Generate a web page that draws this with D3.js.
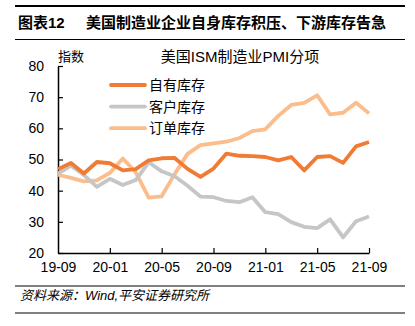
<!DOCTYPE html>
<html>
<head>
<meta charset="utf-8">
<script src="https://cdn.jsdelivr.net/npm/d3@7"></script>
<style>
  body { margin: 0; background: #fff; }
  text { font-family: "Liberation Sans", Arial, "Noto Sans CJK SC", sans-serif; fill: #000; }
</style>
</head>
<body>
<div id="chart"></div>
<script>
// months from 2019-09 to 2021-09
let months = ["19-09","19-10","19-11","19-12","20-01","20-02","20-03","20-04","20-05","20-06","20-07","20-08",
  "20-09","20-10","20-11","20-12","21-01","21-02","21-03","21-04","21-05","21-06","21-07","21-08","21-09"];
let tickLabels = ["19-09","20-01","20-05","20-09","21-01","21-05","21-09"];
let yTicks = [20, 30, 40, 50, 60, 70, 80];

let ownInventory = [46.9, 48.9, 45.5, 49.2, 48.8, 46.5, 46.9, 49.7, 50.4, 50.5, 47.0, 44.4,
  47.1, 51.9, 51.2, 51.1, 50.8, 49.7, 50.8, 46.5, 50.8, 51.1, 48.9, 54.2, 55.6];
let customerInventory = [45.5, 48.0, 45.0, 41.2, 43.8, 41.8, 43.4, 49.1, 46.2, 44.6, 41.6, 38.1,
  37.9, 36.7, 36.3, 37.9, 33.1, 32.5, 29.9, 28.4, 28.0, 30.8, 25.0, 30.2, 31.7];
let backlog = [45.1, 44.1, 43.0, 43.3, 45.7, 50.3, 45.9, 37.8, 38.2, 45.3, 51.8, 54.6,
  55.2, 55.7, 56.9, 59.1, 59.7, 64.0, 67.5, 68.2, 70.6, 64.5, 65.0, 68.2, 64.8];

let series = [
  { name: "自有库存", values: ownInventory, color: "#F07B35" },
  { name: "客户库存", values: customerInventory, color: "#C6C6C6" },
  { name: "订单库存", values: backlog, color: "#FBBD8C" }
];

let svgWidth = 415, svgHeight = 326;

let svg = d3.select("#chart")
    .append("svg")
    .attr("width", svgWidth)
    .attr("height", svgHeight);

// header
svg.append("line").attr("x1", 15).attr("x2", 405).attr("y1", 6).attr("y2", 6)
    .attr("stroke", "#000").attr("stroke-width", 2);
svg.append("line").attr("x1", 15).attr("x2", 405).attr("y1", 39.5).attr("y2", 39.5)
    .attr("stroke", "#000").attr("stroke-width", 1);
svg.append("text")
    .attr("x", 18).attr("y", 28)
    .style("font-size", "15px").style("font-weight", "bold")
    .text("图表12");
svg.append("text")
    .attr("x", 86).attr("y", 28)
    .style("font-size", "15px").style("font-weight", "bold")
    .text("美国制造业企业自身库存积压、下游库存告急");

// footer
svg.append("line").attr("x1", 15).attr("x2", 405).attr("y1", 286).attr("y2", 286)
    .attr("stroke", "#000").attr("stroke-width", 1);
svg.append("line").attr("x1", 15).attr("x2", 405).attr("y1", 313).attr("y2", 313)
    .attr("stroke", "#000").attr("stroke-width", 1);
svg.append("text")
    .attr("x", 20).attr("y", 300)
    .style("font-size", "13px").style("font-style", "italic")
    .text("资料来源：Wind,平安证券研究所");

// chart area
let plotLeft = 58, plotRight = 369, plotTop = 66, plotBottom = 253;

let x = d3.scalePoint().domain(months).range([plotLeft, plotRight]);
let y = d3.scaleLinear().domain([20, 80]).range([plotBottom, plotTop]);

let xAxis = svg.append("g")
    .attr("transform", `translate(0, ${plotBottom})`)
    .call(d3.axisBottom(x).tickValues(tickLabels).tickSizeInner(-5).tickSizeOuter(0).tickPadding(9));
let yAxis = svg.append("g")
    .attr("transform", `translate(${plotLeft}, 0)`)
    .call(d3.axisLeft(y).tickValues(yTicks).tickSizeInner(-5).tickSizeOuter(0).tickPadding(14));

[xAxis, yAxis].forEach(a => {
  a.select(".domain").attr("stroke", "#000").attr("stroke-width", 1.5);
  a.selectAll(".tick line").attr("stroke", "#000").attr("stroke-width", 1.2);
  a.selectAll(".tick text").style("font-size", "14px").attr("fill", "#000")
    .style("font-family", "Liberation Sans, Arial, sans-serif");
});
// first x tick sits on the y axis
xAxis.selectAll(".tick").filter(d => d === "19-09").select("line").remove();

// lines
let line = d3.line()
    .x((d, i) => x(months[i]))
    .y(d => y(d));

// draw back to front: backlog, customer, own
[series[2], series[1], series[0]].forEach(s => {
  svg.append("path")
      .datum(s.values)
      .attr("fill", "none")
      .attr("stroke", s.color)
      .attr("stroke-width", 3.8)
      .attr("stroke-linejoin", "round")
      .attr("d", line);
});

// titles
svg.append("text")
    .attr("x", 58).attr("y", 61)
    .style("font-size", "13px")
    .text("指数");
svg.append("text")
    .attr("x", 240).attr("y", 62)
    .attr("text-anchor", "middle")
    .style("font-size", "15px")
    .text("美国ISM制造业PMI分项");

// legend
let legend = svg.append("g")
    .selectAll("g")
    .data(series)
    .enter()
    .append("g")
    .attr("transform", (d, i) => `translate(111, ${85 + i * 21.6})`);
legend.append("line")
    .attr("x1", 0).attr("x2", 34)
    .attr("stroke", d => d.color)
    .attr("stroke-width", 3.8)
    .attr("stroke-linecap", "round");
legend.append("text")
    .attr("x", 38).attr("y", 5)
    .style("font-size", "14px")
    .text(d => d.name);
</script>
</body>
</html>
